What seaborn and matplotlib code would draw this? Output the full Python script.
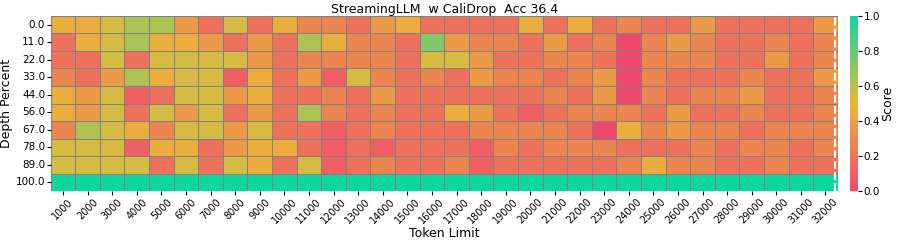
import numpy as np
import pandas as pd
import matplotlib
matplotlib.use("Agg")
import matplotlib.pyplot as plt
import seaborn as sns
from matplotlib.colors import LinearSegmentedColormap

# score levels
A, B, C, D, E, F, G, H, I, J = 0.0, 0.1, 0.18, 0.27, 0.36, 0.45, 0.55, 0.64, 0.73, 1.0

token_limits = list(range(1000, 33000, 1000))
depth_percents = [0.0, 11.0, 22.0, 33.0, 44.0, 56.0, 67.0, 78.0, 89.0, 100.0]

scores = [
    [F, F, G, H, H, E, C, G, C, F, D, D, C, E, F, C, C, C, C, F, C, F, C, D, C, C, E, C, C, C, C, E],
    [C, F, G, H, F, F, E, C, E, C, H, F, D, D, C, I, E, D, D, C, E, C, D, A, D, E, D, C, C, D, C, D],
    [C, C, G, C, G, G, G, G, E, C, D, D, D, D, C, G, G, E, C, C, D, D, C, A, D, D, D, C, C, E, C, D],
    [D, C, E, H, F, G, G, B, F, C, E, B, G, D, C, D, C, E, D, D, C, D, E, A, D, C, C, C, D, C, C, E],
    [F, E, G, B, C, G, G, E, F, C, C, D, C, E, C, C, C, C, C, C, D, C, E, A, D, C, D, D, E, C, C, D],
    [F, E, G, C, G, E, G, C, E, C, H, D, C, D, C, C, F, E, C, B, C, D, D, D, C, E, C, C, D, C, C, D],
    [D, H, G, F, D, G, G, E, G, C, C, B, C, D, C, C, C, D, D, D, D, C, A, F, D, E, D, D, C, D, D, D],
    [G, G, G, B, F, F, C, E, F, F, C, B, C, B, C, C, C, B, D, C, D, D, D, C, C, C, D, C, D, D, C, D],
    [G, G, G, G, C, G, C, G, F, C, G, B, C, D, C, C, D, B, C, C, C, C, C, D, F, D, D, C, C, D, C, C],
    [J] * 32,
]

title = "StreamingLLM  w CaliDrop  Acc 36.4"
marker_pos = 31.88  # dashed line position in cell units

df = pd.DataFrame(scores, index=depth_percents, columns=token_limits)

cmap = LinearSegmentedColormap.from_list("custom_cmap", ["#F0496E", "#EBB839", "#0CD79F"])

fig = plt.figure(figsize=(8.97, 2.41), dpi=100)
ax = fig.add_axes([0.0565, 0.207, 0.8775, 0.727])
cax = fig.add_axes([0.9475, 0.207, 0.009, 0.727])

sns.heatmap(df, ax=ax, cbar_ax=cax, cmap=cmap, vmin=0, vmax=1,
            linewidths=0.5, linecolor="grey", cbar_kws={"label": "Score"})

ax.axvline(marker_pos, color="white", linestyle="--", linewidth=1.5)

ax.set_title(title, fontsize=9, pad=2)
ax.set_xlabel("Token Limit", fontsize=9, labelpad=1)
ax.set_ylabel("Depth Percent", fontsize=9, labelpad=2)
ax.set_xticklabels(token_limits, rotation=45, fontsize=7)
ax.set_yticklabels(depth_percents, rotation=0, fontsize=7.5)
ax.tick_params(axis="both", length=3, pad=1)
cax.tick_params(labelsize=7.5, length=3, pad=1)
cax.yaxis.label.set_size(9)
cax.yaxis.labelpad = 1

fig.savefig("out.png", dpi=100)
